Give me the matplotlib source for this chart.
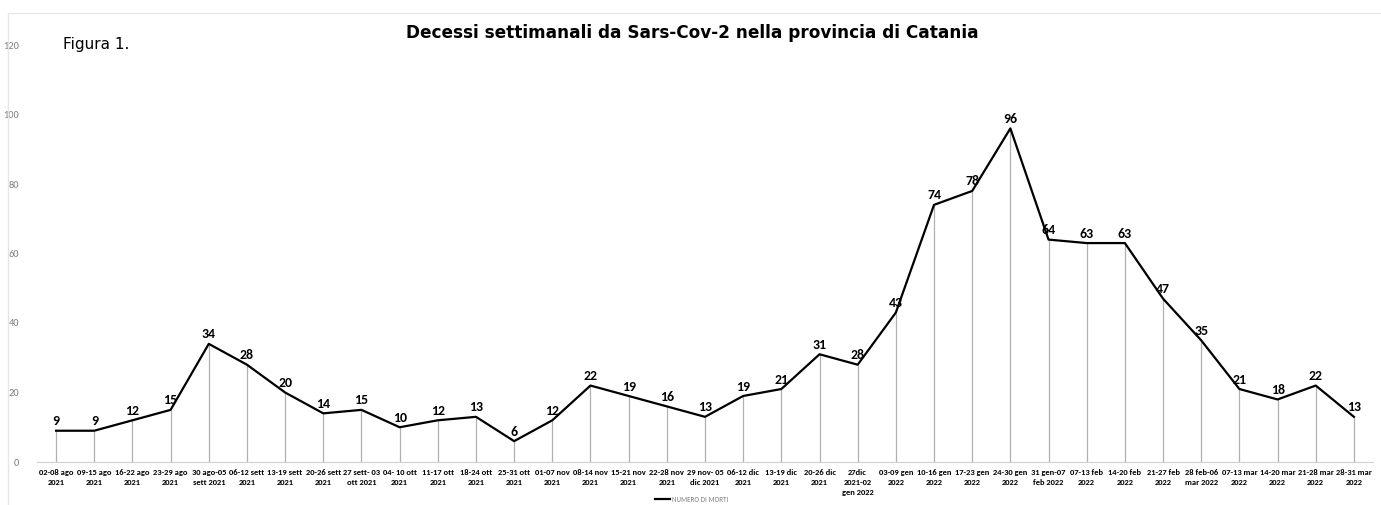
import matplotlib.pyplot as plt
from matplotlib.patches import Rectangle

# weekly deaths, Catania province
weeks = [
    "02-08 ago\n2021", "09-15 ago\n2021", "16-22 ago\n2021", "23-29 ago\n2021",
    "30 ago-05\nsett 2021", "06-12 sett\n2021", "13-19 sett\n2021", "20-26 sett\n2021",
    "27 sett- 03\nott 2021", "04- 10 ott\n2021", "11-17 ott\n2021", "18-24 ott\n2021",
    "25-31 ott\n2021", "01-07 nov\n2021", "08-14 nov\n2021", "15-21 nov\n2021",
    "22-28 nov\n2021", "29 nov- 05\ndic 2021", "06-12 dic\n2021", "13-19 dic\n2021",
    "20-26 dic\n2021", "27dic\n2021-02\ngen 2022", "03-09 gen\n2022", "10-16 gen\n2022",
    "17-23 gen\n2022", "24-30 gen\n2022", "31 gen-07\nfeb 2022", "07-13 feb\n2022",
    "14-20 feb\n2022", "21-27 feb\n2022", "28 feb-06\nmar 2022", "07-13 mar\n2022",
    "14-20 mar\n2022", "21-28 mar\n2022", "28-31 mar\n2022",
]
deaths = [9, 9, 12, 15, 34, 28, 20, 14, 15, 10, 12, 13, 6, 12, 22, 19, 16, 13,
          19, 21, 31, 28, 43, 74, 78, 96, 64, 63, 63, 47, 35, 21, 18, 22, 13]
y_ticks = [0, 20, 40, 60, 80, 100, 120]

narrow = ['Carlito', 'Archivo Narrow', 'Liberation Sans', 'DejaVu Sans']
plt.rcParams['font.family'] = narrow

fig = plt.figure(figsize=(13.81, 5.05), dpi=100)
ax = fig.add_axes([37 / 1381, 43 / 505, 1336 / 1381, 417 / 505])

x = list(range(len(deaths)))

# grey drop lines from each point down to zero
ax.vlines(x, 0, deaths, color='#b0b0b0', linewidth=0.9, zorder=1)
ax.plot(x, deaths, color='black', linewidth=1.6, zorder=2, label='NUMERO DI MORTI')

for xi, v in zip(x, deaths):
    ax.annotate(str(v), (xi, v), xytext=(0, 2.5), textcoords='offset points',
                ha='center', va='bottom', fontsize=10, fontweight='bold')

ax.set_xlim(-0.5, len(deaths) - 0.5)
ax.set_ylim(0, 120)
ax.set_yticks(y_ticks)
ax.set_yticklabels([str(t) for t in y_ticks], color='#7f7f7f', fontsize=7.5)
ax.set_xticks(x)
ax.set_xticklabels(weeks, fontsize=6.1, fontweight='bold', linespacing=1.5)
ax.tick_params(axis='both', length=0)
ax.tick_params(axis='y', pad=13)
ax.tick_params(axis='x', pad=5)

for side in ['top', 'right', 'left']:
    ax.spines[side].set_visible(False)
ax.spines['bottom'].set_color('#d0d0d0')
ax.spines['bottom'].set_linewidth(0.8)

fig.text(692 / 1381, 1 - 33 / 505, 'Decessi settimanali da Sars-Cov-2 nella provincia di Catania',
         ha='center', va='center', fontsize=12.2, fontweight='bold', family=['DejaVu Sans'])
fig.text(63 / 1381, 1 - 45 / 505, 'Figura 1.', ha='left', va='center', fontsize=11,
         family=['DejaVu Sans'])

leg = fig.legend(loc='center', bbox_to_anchor=(692 / 1381, 1 - 499 / 505), frameon=False,
                 fontsize=5, handlelength=2.2, handletextpad=0.3, labelcolor='#7f7f7f')

fig.patches.append(Rectangle((8 / 1381, -0.02), 1.1, 1 - 13 / 505 + 0.02,
                             transform=fig.transFigure, fill=False,
                             edgecolor='#e6e6e6', linewidth=1))

fig.savefig('out.png', dpi=100)
